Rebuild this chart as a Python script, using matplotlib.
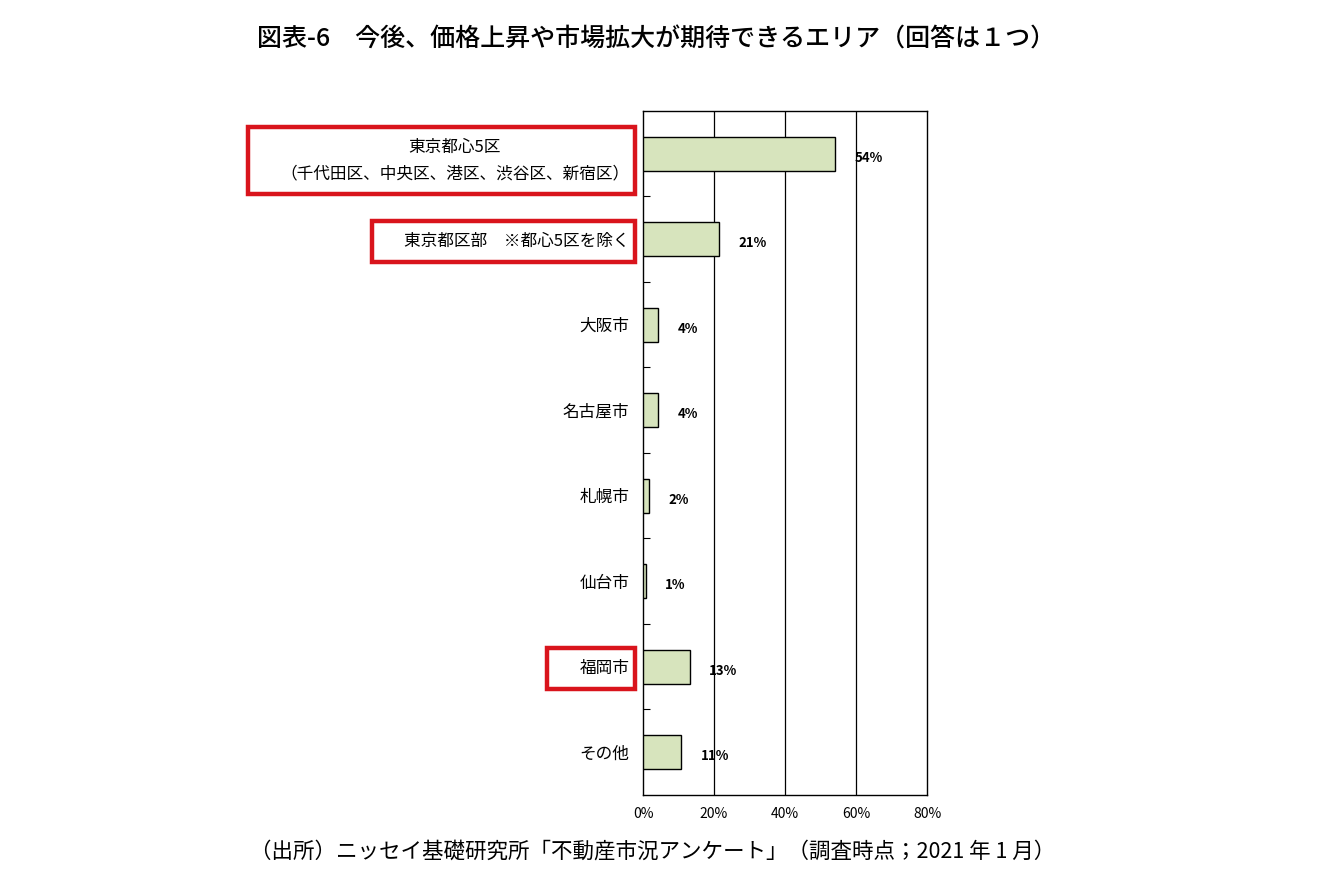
import matplotlib
matplotlib.use("Agg")
import matplotlib.pyplot as plt
from matplotlib.patches import Rectangle
from matplotlib.ticker import FixedLocator, PercentFormatter

plt.rcParams['font.family'] = ['Noto Sans CJK JP', 'DejaVu Sans']

categories = ["東京都心5区\n（千代田区、中央区、港区、渋谷区、新宿区）",
              "東京都区部　※都心5区を除く",
              "大阪市", "名古屋市", "札幌市", "仙台市", "福岡市", "その他"]
values = [54.0, 21.4, 4.2, 4.2, 1.7, 0.8, 13.2, 10.7]
value_labels = ["54%", "21%", "4%", "4%", "2%", "1%", "13%", "11%"]
highlighted = [0, 1, 6]
x_ticks = [0, 20, 40, 60, 80]

title = "図表-6　今後、価格上昇や市場拡大が期待できるエリア（回答は１つ）"
source = "（出所）ニッセイ基礎研究所「不動産市況アンケート」（調査時点；2021 年 1 月）"

fig = plt.figure(figsize=(13.31, 8.76), dpi=100)
ax = fig.add_axes([0.4831, 0.0925, 0.2134, 0.7808])

n = len(categories)
ypos = list(range(n))
ax.barh(ypos, values, height=0.4, color="#d7e4bd", edgecolor="black", linewidth=1.0, zorder=3)
ax.set_ylim(n - 0.5, -0.5)
ax.set_xlim(0, 80)
ax.set_xticks(x_ticks)
ax.xaxis.set_major_formatter(PercentFormatter(decimals=0))
for x in x_ticks[1:-1]:
    ax.axvline(x, color="black", linewidth=0.9, zorder=1)
ax.set_yticks(ypos)
ax.set_yticklabels(categories, fontsize=12, multialignment="center", linespacing=1.75)
ax.tick_params(axis="y", length=0, pad=10)
ax.yaxis.set_minor_locator(FixedLocator([i + 0.5 for i in range(n - 1)]))
ax.tick_params(axis="y", which="minor", direction="in", length=5, width=0.8)
ax.tick_params(axis="x", length=0, pad=9, labelsize=10)
for s in ax.spines.values():
    s.set_color("black")
    s.set_linewidth(1.0)

for y, v, lab in zip(ypos, values, value_labels):
    ax.annotate(lab, xy=(v, y), xytext=(14, -3), textcoords="offset points",
                ha="left", va="center", fontsize=9.5, fontweight="bold", zorder=4)

fig.text(0.493, 0.955, title, ha="center", va="center", fontsize=18, fontweight="medium")
fig.text(0.49, 0.028, source, ha="center", va="center", fontsize=15.5)

fig.canvas.draw()
renderer = fig.canvas.get_renderer()
labels = ax.get_yticklabels()
inv = fig.transFigure.inverted()
for i in highlighted:
    bb = labels[i].get_window_extent(renderer)
    x0, y0 = inv.transform((bb.x0 - 32, bb.y0 - 12))
    x1, y1 = inv.transform((bb.x1 + 6, bb.y1 + 12))
    fig.patches.append(Rectangle((x0, y0), x1 - x0, y1 - y0, transform=fig.transFigure,
                                 fill=False, edgecolor="#d9141c", linewidth=3.2))

fig.savefig("out.png", dpi=100)
